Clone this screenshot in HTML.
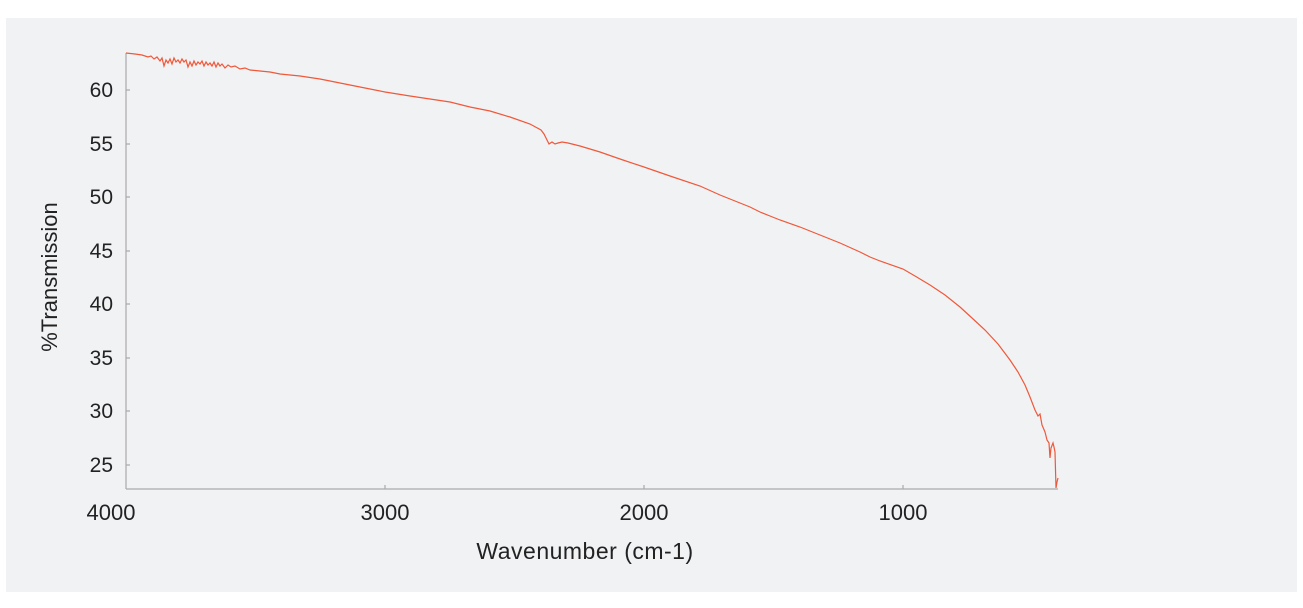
<!DOCTYPE html>
<html><head><meta charset="utf-8"><style>
body{margin:0;background:#fff;width:1303px;height:603px;overflow:hidden;font-family:"Liberation Sans",sans-serif}
</style></head><body>
<svg width="1303" height="603" xmlns="http://www.w3.org/2000/svg">
<rect x="6" y="18" width="1291" height="574" fill="#f1f2f4"/>
<g stroke="#aaa" stroke-width="1.2" fill="none">
<line x1="126" y1="53" x2="126" y2="489"/>
<line x1="126" y1="489" x2="1058" y2="489"/>
<line x1="126" y1="90" x2="130" y2="90"/><line x1="126" y1="144" x2="130" y2="144"/>
<line x1="126" y1="197" x2="130" y2="197"/><line x1="126" y1="251" x2="130" y2="251"/>
<line x1="126" y1="304" x2="130" y2="304"/><line x1="126" y1="358" x2="130" y2="358"/>
<line x1="126" y1="411" x2="130" y2="411"/><line x1="126" y1="465" x2="130" y2="465"/>
<line x1="385" y1="489" x2="385" y2="485"/><line x1="644" y1="489" x2="644" y2="485"/>
<line x1="903" y1="489" x2="903" y2="485"/>
</g>
<g font-size="21" fill="#222" text-anchor="end">
<text x="113" y="97">60</text><text x="113" y="151">55</text><text x="113" y="204">50</text>
<text x="113" y="258">45</text><text x="113" y="311">40</text><text x="113" y="365">35</text>
<text x="113" y="418">30</text><text x="113" y="472">25</text>
</g>
<g font-size="22" fill="#222" text-anchor="middle">
<text x="111" y="520">4000</text><text x="385" y="520">3000</text>
<text x="644" y="520">2000</text><text x="903" y="520">1000</text>
<text x="585" y="559" font-size="23" letter-spacing="0.5">Wavenumber (cm-1)</text>
<text transform="translate(57,277) rotate(-90)">%Transmission</text>
</g>
<polyline fill="none" stroke="#f0583a" stroke-width="1.2" points="126,53 135,54 142,55 148,57 151,56 154,59 157,57 160,61 162,58 164,66 166,60 168,63 170,59 172,64 174,58 176,62 178,60 180,63 182,59 184,62 186,60 188,67 190,62 192,66 194,61 196,65 198,62 200,64 202,61 204,66 206,62 208,65 210,63 212,66 214,62 216,67 218,63 220,66 222,64 225,68 228,65 231,67 235,66 240,69 245,68 250,70 260,71 270,72 280,74 290,75 300,76 320,79 340,83 360,87 385,92 410,96 430,99 450,102 470,107 490,111 510,117 530,124 541,130 544,134 547,140 549,144 552,142 555,144 558,143 562,142 568,143 580,146 600,152 620,159 644,167 670,176 700,186 720,195 740,203 750,207 760,212 770,216 780,220 800,227 820,235 840,243 860,252 870,257 880,261 903,269 915,276 930,285 945,295 960,307 972,318 985,330 998,344 1010,360 1018,372 1025,385 1030,397 1035,410 1038,416 1040,414 1042,425 1045,432 1047,440 1049,443 1050,458 1051,448 1053,443 1054,447 1055,452 1056,488 1057,482 1058,478"/>
</svg>
</body></html>
